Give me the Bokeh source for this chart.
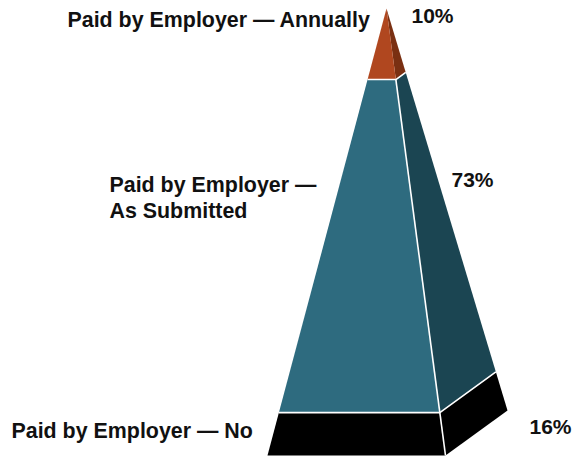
from bokeh.plotting import figure
from bokeh.models import Range1d
from bokeh.core.properties import value
from bokeh.embed import file_html
from bokeh.resources import INLINE

# Data, top band to bottom band
categories = ["Paid by Employer — Annually", "Paid by Employer —\nAs Submitted", "Paid by Employer — No"]
percents = [10, 73, 16]
band_heights = [15.9, 74.5, 9.6]  # share of pyramid height, as drawn in the picture

front_colors = ["#b0471f", "#2e6b7f", "#000000"]
side_colors = ["#7a3012", "#1b4552", "#000000"]

# Pyramid geometry in page pixels
APEX = (386, 8)
BASE_LEFT = (267, 455)
BASE_FRONT = (445, 455)
BASE_BACK = (507, 410)


def along(base, t):
    return (APEX[0] + (base[0] - APEX[0]) * t, APEX[1] + (base[1] - APEX[1]) * t)


total = sum(band_heights)
xs_front, ys_front, xs_side, ys_side = [], [], [], []
sep_xs, sep_ys = [], []
t0 = 0.0
for i, h in enumerate(band_heights):
    t1 = t0 + h / total
    a, b, c, d = along(BASE_LEFT, t0), along(BASE_FRONT, t0), along(BASE_FRONT, t1), along(BASE_LEFT, t1)
    xs_front.append([a[0], b[0], c[0], d[0]])
    ys_front.append([a[1], b[1], c[1], d[1]])
    e, f, g, k = along(BASE_FRONT, t0), along(BASE_BACK, t0), along(BASE_BACK, t1), along(BASE_FRONT, t1)
    xs_side.append([e[0], f[0], g[0], k[0]])
    ys_side.append([e[1], f[1], g[1], k[1]])
    if i < len(band_heights) - 1:
        # white rule round the pyramid at the foot of this band
        sep_xs.append([d[0], c[0], g[0]])
        sep_ys.append([d[1], c[1], g[1]])
    if i > 0:
        # white rule down the front corner of this band
        sep_xs.append([b[0], c[0]])
        sep_ys.append([b[1], c[1]])
    t0 = t1

p = figure(width=578, height=456, output_backend="svg", toolbar_location=None,
           x_range=Range1d(0, 578), y_range=Range1d(456, 0),
           min_border=0, outline_line_color=None, background_fill_color="white",
           border_fill_color="white")
p.axis.visible = False
p.grid.visible = False

p.patches(xs_side, ys_side, fill_color=side_colors, line_color=None)
p.patches(xs_front, ys_front, fill_color=front_colors, line_color=None)
p.multi_line(sep_xs, sep_ys, line_color="white", line_width=1.6)

label_x = [67, 109, 11]
label_y = [19, 210, 430]
pct_x = [411, 451, 529]
pct_y = [15, 179, 426]

lines_x, lines_y, lines_t = [], [], []
for cat, x, y in zip(categories, label_x, label_y):
    parts = cat.split("\n")
    for i, part in enumerate(parts):
        lines_x.append(x)
        lines_y.append(y - 26 * (len(parts) - 1 - i))
        lines_t.append(part)

p.text(lines_x, lines_y, text=lines_t, text_font=value("Liberation Sans"), text_font_style="bold",
       text_font_size="21.4px", text_color="#111111", text_baseline="alphabetic", text_align="left")
p.text(pct_x, pct_y, text=[f"{v}%" for v in percents], text_font=value("Liberation Sans"),
       text_font_style="bold", text_font_size="21px", text_color="#111111",
       text_baseline="alphabetic", text_align="left")

open("out.html", "w").write(file_html(p, INLINE))
